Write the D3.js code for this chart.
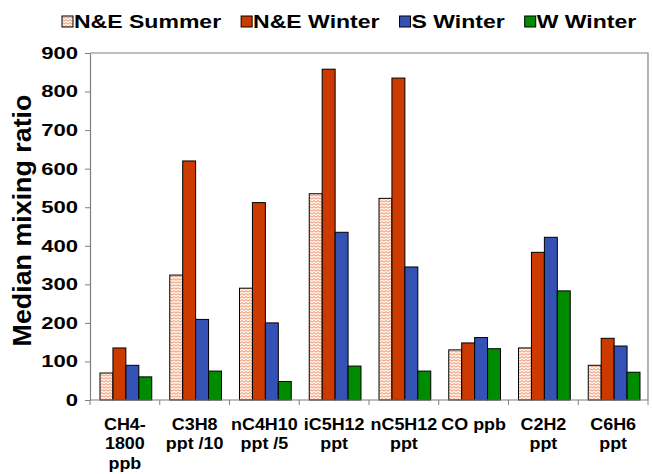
<!DOCTYPE html>
<html>
<head>
<meta charset="utf-8">
<script src="https://cdn.jsdelivr.net/npm/d3@7"></script>
<style>
  body { margin: 0; background: #fff; }
  text { font-family: "Liberation Sans", Arial, sans-serif; font-weight: bold; fill: #000; }
</style>
</head>
<body>
<div id="chart"></div>
<script>
// Data
var categories = ["CH4-1800 ppb", "C3H8 ppt /10", "nC4H10 ppt /5", "iC5H12 ppt", "nC5H12 ppt", "CO ppb", "C2H2 ppt", "C6H6 ppt"];
var categoryLines = [["CH4-", "1800", "ppb"], ["C3H8", "ppt /10"], ["nC4H10", "ppt /5"], ["iC5H12", "ppt"], ["nC5H12", "ppt"], ["CO ppb"], ["C2H2", "ppt"], ["C6H6", "ppt"]];
var seriesNames = ["N&E Summer", "N&E Winter", "S Winter", "W Winter"];
var neSummer = [70, 324, 290, 535, 523, 130, 135, 90];
var neWinter = [135, 620, 512, 858, 835, 148, 383, 160];
var sWinter = [90, 209, 200, 435, 345, 162, 422, 140];
var wWinter = [60, 75, 48, 88, 75, 133, 283, 72];
var yTicks = [0, 100, 200, 300, 400, 500, 600, 700, 800, 900];

var seriesValues = [neSummer, neWinter, sWinter, wWinter];
var colors = ["url(#zigzag)", "#cc3a00", "#3352b4", "#008c00"];

var width = 653, height = 474;
var margin = {top: 53, right: 5, bottom: 74, left: 90};
var plotW = width - margin.left - margin.right,
    plotH = height - margin.top - margin.bottom;

var svg = d3.select("#chart")
	.append("svg")
		.attr("width", width)
		.attr("height", height);

// zigzag pattern for the summer bars
var defs = svg.append("defs");
var pat = defs.append("pattern")
	.attr("id", "zigzag")
	.attr("patternUnits", "userSpaceOnUse")
	.attr("width", 4)
	.attr("height", 3);
pat.append("rect").attr("width", 4).attr("height", 3).attr("fill", "#fff6f0");
pat.append("path")
	.attr("d", "M0,0.6 L2,2.2 L4,0.6")
	.attr("fill", "none")
	.attr("stroke", "#f08a60")
	.attr("stroke-width", 1);

var g = svg.append("g")
	.attr("transform", "translate(" + margin.left + "," + margin.top + ")");

var xCat = d3.scaleBand()
	.domain(categories)
	.range([0, plotW]);

var xSeries = d3.scaleBand()
	.domain(seriesNames)
	.range([10, xCat.bandwidth() - 8]);

var y = d3.scaleLinear()
	.domain([0, 900])
	.range([plotH, 0]);

// frame (top and right)
g.append("path")
	.attr("d", "M0,0 H" + plotW + " V" + plotH)
	.attr("fill", "none")
	.attr("stroke", "#808080")
	.attr("stroke-width", 1.2);

// bars
categories.forEach(function(cat, ci) {
	seriesNames.forEach(function(s, si) {
		var v = seriesValues[si][ci];
		g.append("rect")
			.attr("x", xCat(cat) + xSeries(s))
			.attr("y", y(v))
			.attr("width", xSeries.bandwidth())
			.attr("height", plotH - y(v))
			.attr("fill", colors[si])
			.attr("stroke", "#000")
			.attr("stroke-width", 1);
	});
});

// y axis
var yAxis = g.append("g")
	.call(d3.axisLeft(y).tickValues(yTicks).tickSize(5).tickPadding(7).tickSizeOuter(0));
yAxis.select(".domain").attr("stroke", "#808080").attr("stroke-width", 1.2);
yAxis.selectAll(".tick line").attr("stroke", "#808080");
yAxis.selectAll(".tick text")
	.style("font-size", "17px")
	.attr("x", null)
	.attr("transform", "translate(-12,0) scale(1.3,1)");

// x axis line with ticks between categories
var bounds = categories.map(function(c) { return xCat(c); }).concat([plotW]);
g.append("line")
	.attr("x1", 0).attr("x2", plotW)
	.attr("y1", plotH).attr("y2", plotH)
	.attr("stroke", "#808080").attr("stroke-width", 1.2);
g.selectAll(".xtick")
	.data(bounds)
	.enter().append("line")
		.attr("x1", function(d) { return d; })
		.attr("x2", function(d) { return d; })
		.attr("y1", plotH)
		.attr("y2", plotH + 5)
		.attr("stroke", "#808080");

// category labels
categories.forEach(function(cat, ci) {
	var cx = xCat(cat) + xCat.bandwidth() / 2;
	var t = g.append("text")
		.attr("text-anchor", "middle")
		.attr("transform", "translate(" + cx + "," + (plotH + 30) + ") scale(1.12,1)")
		.style("font-size", "16px");
	categoryLines[ci].forEach(function(line, li) {
		t.append("tspan")
			.attr("x", 0)
			.attr("y", li * 19.5)
			.text(line);
	});
});

// y title
svg.append("text")
	.attr("text-anchor", "middle")
	.attr("transform", "translate(31," + (margin.top + plotH / 2 - 6) + ") rotate(-90) scale(1.22,1.2)")
	.style("font-size", "22px")
	.text("Median mixing ratio");

// legend
var legend = svg.append("g").attr("transform", "translate(62,16)");
var lx = 0;
seriesNames.forEach(function(s, si) {
	legend.append("rect")
		.attr("x", lx)
		.attr("y", 0)
		.attr("width", 11)
		.attr("height", 11)
		.attr("fill", colors[si])
		.attr("stroke", "#000")
		.attr("stroke-width", 1);
	var t = legend.append("text")
		.attr("transform", "translate(" + (lx + 12) + ",11.5) scale(1.28,1)")
		.style("font-size", "18px")
		.text(s);
	lx += 12 + t.node().getComputedTextLength() * 1.28 + 20;
});
</script>
</body>
</html>
